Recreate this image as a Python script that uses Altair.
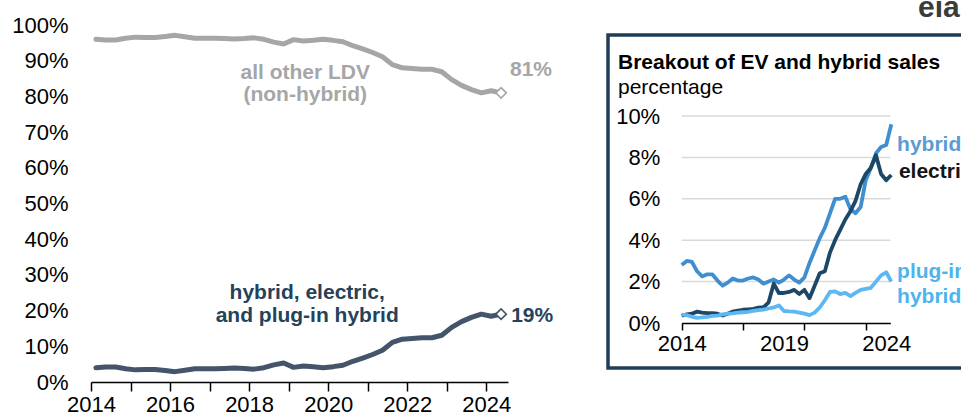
import altair as alt
import pandas as pd

# ---------------- data ----------------
quarters = [f"{y}Q{q}" for y in range(2014, 2025) for q in (1, 2, 3, 4)][:42]

# main chart: share of light-duty vehicle sales (%)
ev_hybrid_total = [4.0, 4.2, 4.2, 3.7, 3.4, 3.5, 3.5, 3.2, 2.9, 3.3, 3.7, 3.7,
                   3.7, 3.8, 3.9, 3.8, 3.6, 4.0, 4.8, 5.3, 4.1, 4.5, 4.3, 4.0,
                   4.3, 4.7, 5.8, 6.7, 7.7, 8.9, 11.1, 12.0, 12.2, 12.4, 12.4, 13.1,
                   15.3, 16.9, 18.1, 19.0, 18.4, 19.0]
other_ldv = [96.0, 95.8, 95.8, 96.3, 96.6, 96.5, 96.5, 96.8, 97.1, 96.7, 96.3, 96.3,
             96.3, 96.2, 96.1, 96.2, 96.4, 96.0, 95.2, 94.7, 95.9, 95.5, 95.7, 96.0,
             95.7, 95.3, 94.2, 93.3, 92.3, 91.1, 88.9, 88.0, 87.8, 87.6, 87.6, 86.9,
             84.7, 83.1, 81.9, 81.0, 81.6, 81.0]

# inset: breakout of EV and hybrid sales (%)
hybrid = [2.8, 3.0, 2.95, 2.5, 2.25, 2.35, 2.35, 2.05, 1.8, 1.95, 2.15, 2.05,
          2.05, 2.15, 2.2, 2.1, 1.9, 2.0, 2.1, 1.95, 2.1, 2.3, 2.1, 1.95,
          2.2, 2.9, 3.5, 4.1, 4.6, 5.3, 6.0, 6.0, 6.1, 5.5, 5.3, 5.6,
          6.9, 7.5, 8.2, 8.5, 8.6, 9.6]
electric = [0.35, 0.42, 0.45, 0.55, 0.5, 0.48, 0.48, 0.45, 0.36, 0.45, 0.55, 0.6,
            0.64, 0.66, 0.68, 0.74, 0.76, 1.0, 1.9, 1.45, 1.45, 1.5, 1.6, 1.4,
            1.6, 1.2, 1.8, 2.4, 2.5, 3.4, 4.0, 4.5, 5.0, 5.4, 5.9, 6.7,
            7.2, 7.5, 8.1, 7.2, 6.9, 7.15]
phev = [0.4, 0.38, 0.3, 0.25, 0.27, 0.3, 0.34, 0.36, 0.42, 0.45, 0.47, 0.5,
        0.52, 0.54, 0.58, 0.62, 0.65, 0.7, 0.75, 0.85, 0.58, 0.56, 0.55, 0.5,
        0.45, 0.38, 0.5, 0.75, 1.1, 1.5, 1.53, 1.4, 1.45, 1.3, 1.45, 1.6,
        1.65, 1.7, 2.0, 2.3, 2.45, 2.0]

main_x_ticks = list(range(2014, 2025))
main_y_ticks = list(range(0, 101, 10))
inset_x_ticks = [2014, 2017, 2019, 2020, 2023, 2024]
inset_y_ticks = [0, 2, 4, 6, 8, 10]

# ---------------- styles ----------------
GREY = "#a6a6a6"
SLATE = "#44546a"
SLATE_TXT = "#25425b"
HYB = "#3e8ed0"
HYB_TXT = "#5b9bd5"
ELEC = "#1c4766"
ELEC_TXT = "#141414"
PHEV = "#5cb8f2"
PHEV_TXT = "#4fb3ee"
BORDER = "#1f3d56"
FONT = "Liberation Sans"

qyear = [int(q[:4]) + (int(q[-1]) - 1) / 4 for q in quarters]
t_main = [v + 0.125 for v in qyear]
t_inset = qyear

main_df = pd.DataFrame({
    "t": t_main + t_main,
    "v": ev_hybrid_total + other_ldv,
    "s": ["ev"] * len(t_main) + ["other"] * len(t_main),
})
main_end = pd.DataFrame({"t": [t_main[-1], t_main[-1]],
                         "v": [ev_hybrid_total[-1], other_ldv[-1]],
                         "s": ["ev", "other"]})

inset_df = pd.DataFrame({
    "t": t_inset * 3,
    "v": hybrid + electric + phev,
    "s": ["hybrid"] * 42 + ["electric"] * 42 + ["phev"] * 42,
})

one = pd.DataFrame({"k": [0]})

# ---------------- main chart ----------------
mx = alt.Scale(domain=[2014, 2024.55], nice=False, zero=False)
my = alt.Scale(domain=[0, 100], nice=False, zero=False)
mcol = alt.Scale(domain=["ev", "other"], range=[SLATE, GREY])

m_xaxis = alt.Axis(
    values=main_x_ticks, format="d",
    labelExpr="datum.value % 2 == 0 ? datum.label : ''",
    tickSize=9, tickWidth=1.5, tickColor="#000000",
    domainColor="#000000", domainWidth=1.5,
    labelFontSize=22, labelPadding=3, labelColor="#000000",
    labelFlush=False, labelOverlap=False, grid=False, title=None)
m_yaxis = alt.Axis(
    values=main_y_ticks, labelExpr="datum.value + '%'",
    ticks=False, domain=False, grid=False, labelPadding=23,
    labelFontSize=22, labelColor="#000000", title=None)

MX = dict(scale=mx, title=None, axis=m_xaxis)
MY = dict(scale=my, title=None, axis=m_yaxis)

main_lines = alt.Chart(main_df).mark_line(strokeWidth=5, strokeJoin="round", strokeCap="round").encode(
    x=alt.X("t:Q", **MX),
    y=alt.Y("v:Q", **MY),
    color=alt.Color("s:N", scale=mcol, legend=None),
)

main_diamonds = alt.Chart(main_end).mark_point(
    shape="diamond", filled=True, fill="white", size=110, strokeWidth=1.6, opacity=1
).encode(
    x=alt.X("t:Q", **MX),
    y=alt.Y("v:Q", **MY),
    stroke=alt.Stroke("s:N", scale=mcol, legend=None),
)

grey_center = pd.DataFrame({"t": [2019.42, 2019.42], "v": [86.6, 80.4],
                            "label": ["all other LDV", "(non-hybrid)"]})
slate_center = pd.DataFrame({"t": [2019.47, 2019.47], "v": [24.9, 18.5],
                             "label": ["hybrid, electric,", "and plug-in hybrid"]})
grey_left = pd.DataFrame({"t": [2024.6], "v": [87.4], "label": ["81%"]})
slate_left = pd.DataFrame({"t": [2024.63], "v": [18.4], "label": ["19%"]})


def txt(df, color, align):
    return alt.Chart(df).mark_text(
        font=FONT, fontSize=21, fontWeight="bold", color=color,
        align=align, baseline="middle"
    ).encode(
        x=alt.X("t:Q", **MX),
        y=alt.Y("v:Q", **MY),
        text="label:N",
    )


main_layer = alt.layer(
    main_lines, main_diamonds,
    txt(grey_center, GREY, "center"), txt(slate_center, SLATE_TXT, "center"),
    txt(grey_left, GREY, "left"), txt(slate_left, SLATE_TXT, "left"),
)

# ---------------- inset ----------------
ix = alt.Scale(domain=[2014, 2024.2], range=[590.7, 799.3], nice=False, zero=False)
iy = alt.Scale(domain=[0, 10], range=[298, 91], nice=False, zero=False)
icol = alt.Scale(domain=["hybrid", "electric", "phev"], range=[HYB, ELEC, PHEV])

i_xaxis = alt.Axis(
    orient="bottom", offset=-59,
    values=inset_x_ticks, format="d",
    labelExpr="(datum.value == 2014 || datum.value == 2019 || datum.value == 2024) ? datum.label : ''",
    tickOpacity={"condition": {"test": "datum.value == 2014 || datum.value == 2017 || datum.value == 2020 || datum.value == 2023", "value": 1}, "value": 0},
    tickSize=7, tickWidth=1.5, tickColor="#000000",
    domainColor="#000000", domainWidth=1.5,
    labelFontSize=22, labelPadding=3, labelColor="#000000",
    labelFlush=False, labelOverlap=False, grid=False, title=None)
i_yaxis = alt.Axis(
    orient="left", offset=-590.7,
    values=inset_y_ticks, labelExpr="datum.value + '%'",
    ticks=False, domain=False, grid=False, labelPadding=22,
    labelFontSize=22, labelColor="#000000", title=None)

IX = dict(scale=ix, title=None, axis=i_xaxis)
IY = dict(scale=iy, title=None, axis=i_yaxis)

border = alt.Chart(one).mark_rect(fillOpacity=0, stroke=BORDER, strokeWidth=3.5).encode(
    x=alt.value(517), x2=alt.value(905), y=alt.value(10), y2=alt.value(343)
)

grid_df = pd.DataFrame({"g": inset_y_ticks[1:]})
grid_df["x0"] = 2014
grid_df["x1"] = 2024.2
inset_grid = alt.Chart(grid_df).mark_rule(color="#d9d9d9", strokeWidth=1.5).encode(
    y=alt.Y("g:Q", **IY),
    x=alt.X("x0:Q", **IX),
    x2="x1:Q",
)

inset_lines = alt.Chart(inset_df).mark_line(strokeWidth=3.8, strokeJoin="round").encode(
    x=alt.X("t:Q", **IX),
    y=alt.Y("v:Q", **IY),
    color=alt.Color("s:N", scale=icol, legend=None),
    order=alt.Order("t:Q"),
)


def itxt(df, color):
    return alt.Chart(df).mark_text(
        font=FONT, fontSize=21, fontWeight="bold", color=color,
        align="left", baseline="middle"
    ).encode(
        x=alt.X("t:Q", **IX),
        y=alt.Y("v:Q", **IY),
        text="label:N",
    )


lab_h = pd.DataFrame({"t": [2024.53], "v": [8.6], "label": ["hybrid"]})
lab_e = pd.DataFrame({"t": [2024.62], "v": [7.3], "label": ["electric"]})
lab_p = pd.DataFrame({"t": [2024.53, 2024.53], "v": [2.46, 1.26], "label": ["plug-in", "hybrid"]})

title1 = alt.Chart(one).mark_text(
    text="Breakout of EV and hybrid sales", font=FONT, fontSize=21, fontWeight="bold",
    color="#000000", align="left", baseline="middle"
).encode(x=alt.value(527), y=alt.value(38))
title2 = alt.Chart(one).mark_text(
    text="percentage", font=FONT, fontSize=21, color="#000000",
    align="left", baseline="middle"
).encode(x=alt.value(527), y=alt.value(63))
logo = alt.Chart(one).mark_text(
    text="eia", font=FONT, fontSize=30, fontWeight="bold", color="#3b3b3b",
    align="left", baseline="alphabetic"
).encode(x=alt.value(827), y=alt.value(-8))

inset_layer = alt.layer(
    border, inset_grid, inset_lines,
    itxt(lab_h, HYB_TXT), itxt(lab_e, ELEC_TXT), itxt(lab_p, PHEV_TXT),
    title1, title2, logo,
)

chart = alt.layer(main_layer, inset_layer).resolve_scale(
    x="independent", y="independent", color="independent", stroke="independent"
).properties(
    width=417, height=357,
    padding={"left": 91, "top": 25, "right": 453, "bottom": 38},
    autosize="none",
    background="white",
).configure(font=FONT).configure_view(strokeWidth=0, stroke="white").configure_axis(
    labelFont=FONT
)

chart.save("out.html", embed_options={"renderer": "svg", "actions": False})
